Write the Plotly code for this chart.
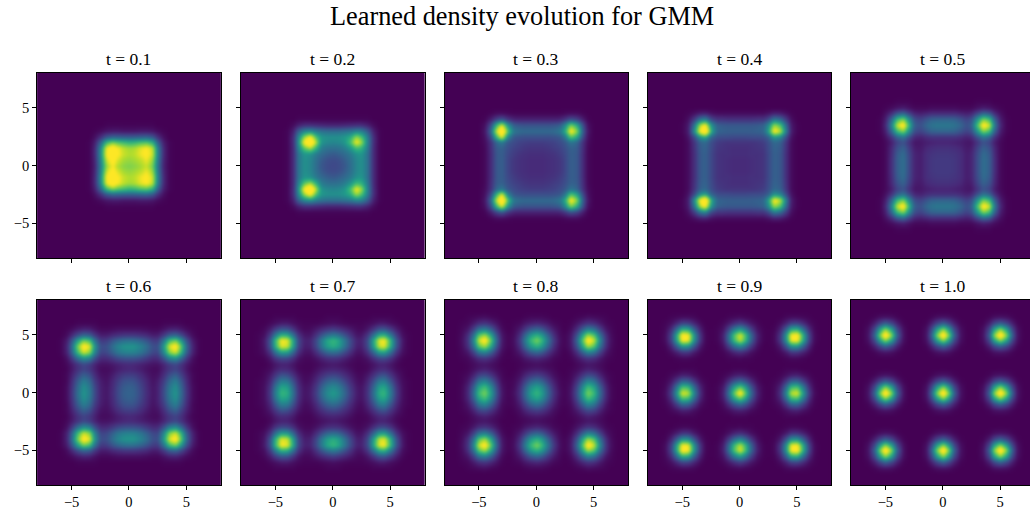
import numpy as np
import plotly.graph_objects as go

TITLE = "Learned density evolution for GMM"
TIMES = ["0.1", "0.2", "0.3", "0.4", "0.5", "0.6", "0.7", "0.8", "0.9", "1.0"]
TICKS = [-5, 0, 5]
TICK_TEXT = ["\u22125", "0", "5"]

# Density, in percent of the colour range
# (values above 100 saturate at yellow).
# Rows: y = 0, 0.5, 1 ...; columns: |x| = 0, 0.5, 1 ...
# Panels t = 0.1-0.4 differ between their left (L) and right (R) sides.
d01L = [
    [80, 82, 88, 100, 84, 42, 9, 1],
    [84, 86, 94, 108, 92, 44, 10, 1],
    [88, 92, 102, 118, 102, 48, 11, 1],
    [86, 90, 100, 114, 98, 46, 11, 1],
    [66, 68, 72, 78, 66, 32, 8, 1],
    [30, 31, 32, 33, 28, 14, 4],
    [6, 6, 7, 7, 6, 3, 1],
    [1, 1, 1, 1, 1],
]
d01R = [
    [80, 82, 86, 92, 78, 40, 9, 1],
    [84, 86, 90, 98, 84, 42, 10, 1],
    [88, 90, 98, 104, 92, 46, 11, 1],
    [86, 88, 96, 102, 90, 44, 11, 1],
    [64, 66, 70, 72, 62, 31, 8, 1],
    [30, 31, 32, 33, 28, 14, 4],
    [6, 6, 7, 7, 6, 3, 1],
    [1, 1, 1, 1, 1],
]
d02L = [
    [22, 23, 27, 35, 46, 50, 38, 12, 1],
    [23, 24, 29, 36, 46, 50, 38, 12, 1],
    [28, 30, 34, 40, 50, 52, 38, 12, 1],
    [36, 37, 42, 62, 85, 74, 44, 12, 1],
    [46, 47, 52, 85, 130, 105, 50, 13, 1],
    [50, 50, 53, 70, 105, 85, 46, 13, 1],
    [36, 36, 38, 42, 50, 46, 31, 9, 1],
    [10, 10, 11, 12, 13, 13, 9, 3],
    [1, 1, 1, 1, 1, 1, 1],
]
d02R = [
    [22, 23, 27, 35, 46, 50, 38, 12, 1],
    [23, 24, 29, 36, 46, 50, 38, 12, 1],
    [28, 30, 34, 40, 50, 52, 38, 12, 1],
    [36, 37, 42, 52, 68, 64, 42, 12, 1],
    [46, 47, 52, 70, 100, 85, 46, 13, 1],
    [50, 50, 53, 62, 85, 72, 44, 13, 1],
    [36, 36, 38, 40, 46, 44, 30, 9, 1],
    [10, 10, 11, 12, 13, 13, 9, 3],
    [1, 1, 1, 1, 1, 1, 1],
]
d03L = [
    [12, 12, 13, 14, 16, 21, 30, 28, 12, 2],
    [12, 12, 13, 14, 16, 21, 30, 28, 12, 2],
    [13, 13, 14, 15, 18, 22, 30, 28, 12, 2],
    [15, 15, 16, 18, 20, 24, 31, 29, 13, 2],
    [18, 18, 19, 20, 23, 27, 40, 34, 14, 3],
    [24, 24, 24, 25, 27, 44, 95, 66, 22, 4],
    [34, 34, 34, 35, 40, 72, 130, 95, 34, 6],
    [26, 26, 26, 27, 30, 52, 95, 68, 24, 4],
    [9, 9, 9, 9, 10, 15, 26, 20, 8, 1],
    [1, 1, 1, 1, 1, 2, 3, 3, 1],
]
d03R = [
    [12, 12, 13, 14, 16, 21, 30, 28, 12, 2],
    [12, 12, 13, 14, 16, 21, 30, 28, 12, 2],
    [13, 13, 14, 15, 18, 22, 30, 28, 12, 2],
    [15, 15, 16, 18, 20, 24, 31, 29, 13, 2],
    [18, 18, 19, 20, 23, 27, 38, 33, 14, 3],
    [24, 24, 24, 25, 27, 38, 72, 58, 22, 4],
    [34, 34, 34, 35, 40, 60, 105, 82, 30, 6],
    [26, 26, 26, 27, 30, 47, 80, 62, 24, 4],
    [9, 9, 9, 9, 10, 15, 24, 19, 8, 1],
    [1, 1, 1, 1, 1, 2, 3, 3, 1],
]
d04L = [
    [12, 12, 13, 14, 15, 22, 31, 28, 13, 3],
    [12, 12, 13, 14, 15, 22, 31, 28, 13, 3],
    [13, 13, 14, 14, 15, 22, 31, 28, 13, 3],
    [13, 13, 14, 15, 16, 23, 32, 29, 14, 3],
    [15, 15, 15, 16, 18, 24, 34, 31, 15, 3],
    [22, 22, 23, 23, 24, 32, 58, 50, 22, 5],
    [30, 30, 30, 31, 33, 62, 130, 105, 48, 8, 1],
    [28, 28, 28, 29, 31, 52, 105, 88, 38, 7, 1],
    [14, 14, 14, 15, 15, 22, 44, 38, 17, 4],
    [3, 3, 3, 3, 3, 5, 9, 8, 4, 1],
]
d04R = [
    [12, 12, 13, 14, 15, 22, 31, 28, 13, 3],
    [12, 12, 13, 14, 15, 22, 31, 28, 13, 3],
    [13, 13, 14, 14, 15, 22, 31, 28, 13, 3],
    [13, 13, 14, 15, 16, 23, 32, 29, 14, 3],
    [15, 15, 15, 16, 18, 24, 34, 31, 15, 3],
    [22, 22, 23, 23, 24, 30, 52, 46, 22, 5],
    [30, 30, 30, 31, 33, 55, 105, 90, 42, 8, 1],
    [28, 28, 28, 29, 31, 47, 85, 72, 34, 7, 1],
    [14, 14, 14, 15, 15, 22, 40, 34, 17, 4],
    [3, 3, 3, 3, 3, 5, 9, 8, 4, 1],
]
d05 = [
    [17, 17, 16, 13, 8, 10, 24, 36, 30, 13, 2],
    [17, 17, 16, 13, 8, 10, 24, 36, 30, 13, 2],
    [16, 16, 15, 13, 8, 10, 23, 35, 29, 12, 2],
    [14, 14, 13, 11, 7, 8, 20, 31, 25, 11, 2],
    [10, 10, 9, 8, 6, 6, 15, 25, 20, 8, 2],
    [14, 14, 14, 12, 9, 11, 25, 38, 31, 14, 4],
    [32, 32, 31, 26, 20, 24, 52, 80, 68, 32, 8, 1],
    [40, 40, 38, 33, 25, 30, 70, 108, 92, 43, 11, 1],
    [32, 32, 31, 26, 20, 24, 52, 80, 68, 32, 8, 1],
    [12, 12, 12, 10, 8, 10, 21, 32, 27, 12, 4],
    [3, 3, 3, 2, 2, 2, 5, 8, 6, 3, 1],
    [0, 0, 0, 0, 0, 0, 1, 1, 1],
]
d06 = [
    [32, 30, 22, 13, 6, 9, 23, 42, 52, 36, 15, 3],
    [31, 29, 21, 12, 6, 9, 22, 40, 50, 34, 14, 3],
    [27, 25, 18, 11, 5, 8, 18, 34, 43, 29, 12, 2],
    [19, 18, 13, 8, 4, 5, 13, 25, 31, 21, 9, 2],
    [11, 10, 8, 5, 3, 3, 9, 16, 20, 14, 6, 1],
    [12, 11, 9, 7, 5, 5, 10, 18, 22, 15, 7, 2],
    [25, 25, 22, 17, 12, 12, 25, 44, 50, 36, 16, 4],
    [45, 44, 39, 31, 22, 21, 46, 82, 93, 68, 30, 9, 1],
    [52, 51, 45, 36, 25, 24, 53, 95, 108, 78, 34, 10, 1],
    [37, 36, 32, 26, 18, 17, 38, 68, 77, 55, 25, 7, 1],
    [16, 16, 14, 12, 8, 8, 17, 30, 33, 24, 11, 3],
    [4, 4, 4, 3, 2, 2, 5, 9, 10, 7, 3, 1],
    [0, 0, 0, 0, 0, 0, 1, 1, 1, 1],
]
d07 = [
    [54, 48, 34, 19, 8, 5, 14, 36, 62, 66, 42, 17, 4, 1],
    [48, 43, 30, 17, 7, 5, 13, 32, 56, 59, 38, 15, 4, 1],
    [35, 31, 22, 12, 5, 3, 10, 24, 41, 43, 27, 11, 3, 1],
    [21, 19, 13, 8, 3, 2, 6, 14, 24, 26, 16, 7, 2],
    [10, 9, 7, 4, 1, 1, 2, 7, 11, 12, 8, 3, 1],
    [7, 6, 4, 2, 1, 1, 2, 5, 9, 9, 6, 2],
    [14, 13, 9, 5, 2, 2, 5, 13, 21, 22, 15, 6, 1],
    [36, 33, 23, 13, 5, 5, 13, 32, 54, 56, 37, 15, 4, 1],
    [62, 56, 39, 22, 9, 8, 21, 55, 92, 96, 63, 26, 6, 1],
    [66, 59, 41, 23, 10, 9, 22, 58, 96, 100, 66, 27, 7, 1],
    [42, 37, 26, 15, 6, 6, 15, 37, 62, 65, 42, 18, 4, 1],
    [18, 15, 11, 7, 3, 2, 6, 15, 26, 27, 18, 8, 2],
    [4, 3, 2, 1, 1, 1, 2, 4, 7, 7, 4, 2],
    [1, 1, 0, 0, 0, 0, 0, 1, 1, 1, 1],
]
d08 = [
    [66, 56, 33, 14, 4, 1, 6, 24, 56, 80, 68, 36, 11, 2],
    [58, 49, 29, 12, 3, 1, 5, 21, 49, 70, 59, 31, 10, 2],
    [38, 32, 19, 8, 2, 1, 3, 14, 32, 46, 39, 20, 6, 1],
    [19, 16, 10, 4, 1, 0, 2, 7, 16, 23, 20, 10, 3, 1],
    [7, 6, 4, 2, 0, 0, 1, 3, 6, 9, 7, 4, 1],
    [4, 3, 2, 1, 0, 0, 0, 2, 4, 6, 5, 3, 1],
    [11, 9, 6, 2, 1, 0, 1, 5, 11, 15, 13, 7, 2, 1],
    [33, 28, 16, 7, 2, 0, 3, 13, 31, 44, 38, 20, 6, 2],
    [64, 54, 32, 13, 3, 1, 6, 25, 60, 86, 74, 38, 13, 3],
    [80, 67, 40, 17, 4, 1, 7, 32, 75, 108, 92, 48, 15, 4],
    [64, 54, 32, 13, 3, 1, 6, 25, 60, 86, 74, 38, 13, 3],
    [33, 28, 16, 7, 2, 0, 3, 13, 31, 44, 38, 20, 6, 2],
    [11, 9, 6, 2, 1, 0, 1, 5, 11, 15, 13, 7, 2, 1],
    [2, 2, 1, 0, 0, 0, 0, 1, 2, 4, 3, 2, 1],
]
d09 = [
    [108, 76, 34, 9, 1, 0, 2, 13, 46, 90, 96, 55, 18, 3],
    [76, 58, 26, 7, 1, 0, 2, 10, 35, 68, 72, 42, 13, 2],
    [34, 26, 12, 3, 0, 0, 1, 4, 16, 31, 33, 19, 6, 1],
    [9, 7, 3, 1, 0, 0, 0, 1, 4, 8, 9, 5, 2],
    [1, 1, 0, 0, 0, 0, 0, 0, 1, 1, 1],
    [0],
    [2, 1, 1, 0, 0, 0, 0, 0, 1, 2, 2, 1],
    [13, 10, 4, 1, 0, 0, 0, 2, 7, 15, 15, 9, 3],
    [46, 35, 16, 4, 0, 0, 1, 7, 26, 50, 52, 31, 10, 1],
    [90, 68, 31, 8, 1, 0, 2, 15, 50, 98, 102, 60, 19, 3],
    [96, 72, 33, 9, 1, 0, 2, 15, 52, 102, 108, 63, 20, 3],
    [55, 42, 19, 5, 1, 0, 1, 9, 31, 60, 63, 37, 12, 2],
    [18, 13, 6, 2, 0, 0, 0, 3, 10, 19, 20, 12, 4, 1],
    [3, 2, 1, 0, 0, 0, 0, 0, 2, 3, 3, 2, 1],
]
d10 = [
    [115, 82, 30, 5, 0, 0, 0, 5, 30, 82, 115, 82, 30, 5],
    [82, 58, 21, 4, 0, 0, 0, 4, 21, 58, 82, 58, 21, 4],
    [30, 21, 8, 1, 0, 0, 0, 1, 8, 21, 30, 21, 8, 1],
    [5, 4, 1, 0, 0, 0, 0, 0, 1, 4, 5, 4, 1],
    [0],
    [0],
    [0],
    [5, 4, 1, 0, 0, 0, 0, 0, 1, 4, 5, 4, 1],
    [30, 21, 8, 1, 0, 0, 0, 1, 8, 21, 30, 21, 8, 1],
    [82, 58, 21, 4, 0, 0, 0, 4, 21, 58, 82, 58, 21, 4],
    [115, 82, 30, 5, 0, 0, 0, 5, 30, 82, 115, 82, 30, 5],
    [82, 58, 21, 4, 0, 0, 0, 4, 21, 58, 82, 58, 21, 4],
    [30, 21, 8, 1, 0, 0, 0, 1, 8, 21, 30, 21, 8, 1],
    [5, 4, 1, 0, 0, 0, 0, 0, 1, 4, 5, 4, 1],
]
PANELS_LEFT = [d01L, d02L, d03L, d04L, d05, d06, d07, d08, d09, d10]
PANELS_RIGHT = [d01R, d02R, d03R, d04R, d05, d06, d07, d08, d09, d10]

GRID = [-8 + 0.5 * i for i in range(33)]
W, H = 1035, 511
SERIF = "Liberation Serif"
COLS = [37.2, 241, 444.5, 647.8, 851]
ROWS = [(73, 258), (300, 485)]
PANEL_W = 183.5


def quadrant(rows):
    q = np.zeros((17, 17))
    for j, row in enumerate(rows):
        q[j, : len(row)] = row
    return q


def full_grid(left, right):
    upper = np.hstack([quadrant(left)[:, :0:-1], quadrant(right)])
    return np.vstack([upper[:0:-1], upper])


fig = go.Figure()
annotations = [dict(text=TITLE, x=522 / W, y=1 - 17 / H, xref="paper", yref="paper",
                    xanchor="center", yanchor="middle", showarrow=False,
                    font=dict(family=SERIF, size=26.3, color="black"))]
layout_axes = {}
for i, t in enumerate(TIMES):
    r, c = divmod(i, 5)
    n = "" if i == 0 else str(i + 1)
    fig.add_trace(go.Heatmap(x=GRID, y=GRID, z=full_grid(PANELS_LEFT[i], PANELS_RIGHT[i]),
                             zmin=0, zmax=100, colorscale="Viridis", zsmooth="best",
                             showscale=False, hoverinfo="skip",
                             xaxis="x" + n, yaxis="y" + n))
    top, bottom = ROWS[r]
    common = dict(range=[-8, 8], tickvals=TICKS, ticktext=TICK_TEXT, ticks="outside",
                  ticklen=4, tickwidth=1, tickcolor="black", showgrid=False, zeroline=False,
                  showline=True, mirror=True, linecolor="black", linewidth=1,
                  tickfont=dict(family=SERIF, size=14.5, color="black"))
    layout_axes["xaxis" + n] = dict(common, anchor="y" + n,
                                    domain=[COLS[c] / W, (COLS[c] + PANEL_W) / W],
                                    showticklabels=r == 1)
    layout_axes["yaxis" + n] = dict(common, anchor="x" + n,
                                    domain=[1 - bottom / H, 1 - top / H],
                                    showticklabels=c == 0)
    annotations.append(dict(text="t = " + t, x=(COLS[c] + PANEL_W / 2) / W,
                            y=1 - (top - 14) / H, xref="paper", yref="paper",
                            xanchor="center", yanchor="middle", showarrow=False,
                            font=dict(family=SERIF, size=17.5, color="black")))

fig.update_layout(width=W, height=H, margin=dict(l=0, r=0, t=0, b=0),
                  paper_bgcolor="white", plot_bgcolor="#440154",
                  annotations=annotations, **layout_axes)

SOFTEN = """
document.body.style.margin='0';
document.documentElement.style.overflow='hidden';
function soften(){document.querySelectorAll('.hm image').forEach(function(el){el.style.filter='blur(1.6px)';});}
soften();setTimeout(soften,0);setTimeout(soften,100);
"""
fig.write_html("out.html", config={"displayModeBar": False}, post_script=SOFTEN)
